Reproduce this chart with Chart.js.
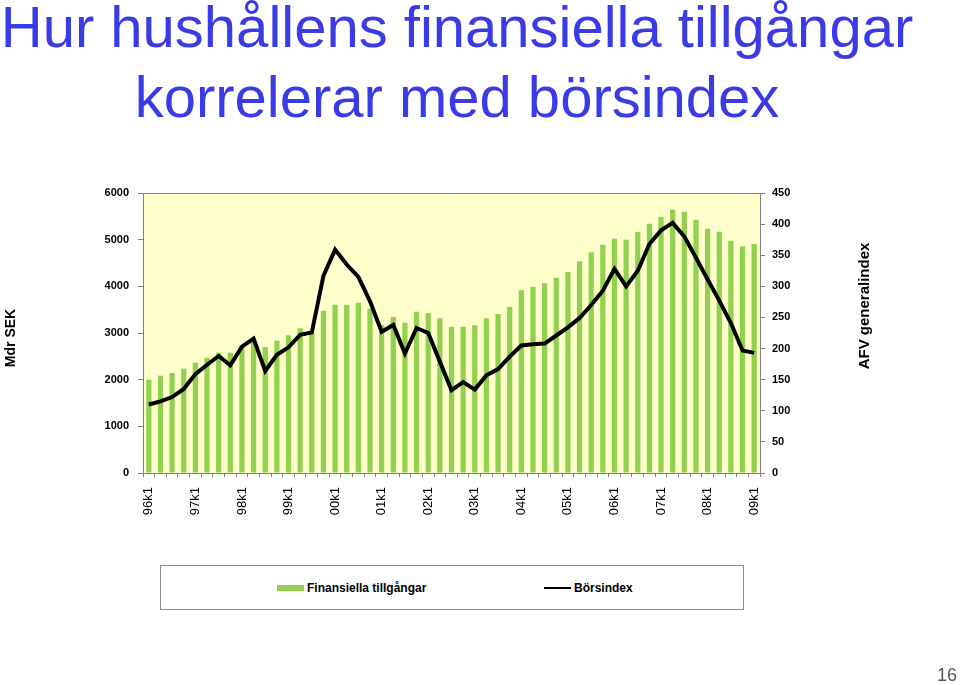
<!DOCTYPE html>
<html>
<head>
<meta charset="utf-8">
<script src="https://cdn.jsdelivr.net/npm/chart.js@4.4.0/dist/chart.umd.min.js"></script>
<style>
    body { margin: 0; background: #fff; font-family: "Liberation Sans", Arial, sans-serif; }
    #page { position: relative; width: 960px; height: 685px; overflow: hidden; }
    #title { position: absolute; left: 0; top: -8px; width: 914px; text-align: center;
        font-size: 58px; line-height: 70px; color: #3a3ae6; white-space: nowrap; }
    #chartBox { position: absolute; left: 0; top: 0; width: 960px; height: 685px; }
    #legend { position: absolute; left: 160px; top: 565px; width: 582px; height: 43px;
        border: 1px solid #8c8c8c; background: #fff; font-weight: bold; font-size: 12px; }
    #legend .sw { position: absolute; }
    #legend .txt { position: absolute; top: 15px; line-height: 14px; }
    #pageNo { position: absolute; left: 937px; top: 665px; font-size: 18px; color: #555; }
</style>
</head>
<body>
<div id="page">
    <div id="chartBox"><canvas id="myChart"></canvas></div>
    <div id="title">Hur hushållens finansiella tillgångar<br>korrelerar med börsindex</div>
    <div id="legend">
        <div class="sw" style="left:116px; top:19px; width:27px; height:6px; background:#92d050"></div>
        <div class="txt" style="left:146px">Finansiella tillgångar</div>
        <div class="sw" style="left:383px; top:21px; width:27px; height:2px; background:#000"></div>
        <div class="txt" style="left:413px">Börsindex</div>
    </div>
    <div id="pageNo">16</div>
</div>
<script>
const years = ['96', '97', '98', '99', '00', '01', '02', '03', '04', '05', '06', '07', '08', '09']

// Finansiella tillgångar, Mdr SEK (left axis)
const finansiella = [
    2000, 2086, 2143, 2236, 2364, 2471, 2579, 2579, 2730, 2860, 2700, 2836, 2950,
    3100, 3030, 3479, 3607, 3607, 3650, 3521, 3170, 3343, 3221, 3457, 3429, 3314, 3136,
    3136, 3164, 3314, 3407, 3557, 3914, 3986, 4064, 4186, 4307, 4536, 4729, 4893,
    5021, 5000, 5164, 5343, 5493, 5643, 5600, 5429, 5236, 5171, 4979, 4857, 4907
]

// Börsindex, AFV generalindex (right axis)
const borsindex = [
    110, 115, 122, 135, 159, 174, 188, 173, 203, 216, 164, 190, 202,
    222, 226, 317, 359, 335, 315, 276, 227, 238, 192, 233, 225, 179, 133,
    146, 134, 157, 167, 187, 205, 207, 208, 221, 234, 249, 270, 293,
    328, 300, 325, 368, 390, 402, 380, 346, 311, 277, 241, 197, 193
]

let quarters = []
for (let i = 0; i < years.length; i++) {
    const last = i === years.length - 1 ? 1 : 4
    for (let q = 1; q <= last; q++) {
        quarters.push(years[i] + 'k' + q)
    }
}

const axisGrey = '#808080'
Chart.defaults.font.family = '"Liberation Sans", Arial, sans-serif'
Chart.defaults.color = '#000'

const plotBackground = {
    id: 'plotBackground',
    beforeDraw(chart) {
        const { ctx, chartArea } = chart
        ctx.save()
        ctx.fillStyle = '#ffffcc'
        ctx.fillRect(chartArea.left, chartArea.top, chartArea.right - chartArea.left, chartArea.bottom - chartArea.top)
        ctx.restore()
    },
    afterDraw(chart) {
        const { ctx, chartArea } = chart
        ctx.save()
        ctx.strokeStyle = axisGrey
        ctx.lineWidth = 1
        ctx.beginPath()
        ctx.moveTo(chartArea.left, chartArea.top + 0.5)
        ctx.lineTo(chartArea.right, chartArea.top + 0.5)
        ctx.stroke()

        // axis titles, both reading bottom to top
        const midY = (chartArea.top + chartArea.bottom) / 2
        ctx.fillStyle = '#000'
        ctx.textAlign = 'center'
        ctx.textBaseline = 'middle'
        ctx.font = 'bold 14px "Liberation Sans", Arial, sans-serif'
        ctx.translate(11, midY + 5)
        ctx.rotate(-Math.PI / 2)
        ctx.fillText('Mdr SEK', 0, 0)
        ctx.restore()

        ctx.save()
        ctx.fillStyle = '#000'
        ctx.textAlign = 'center'
        ctx.textBaseline = 'middle'
        ctx.font = 'bold 15px "Liberation Sans", Arial, sans-serif'
        ctx.translate(865, midY - 27)
        ctx.rotate(-Math.PI / 2)
        ctx.fillText('AFV generalindex', 0, 0)
        ctx.restore()
    }
}

const ctx = document.getElementById('myChart').getContext('2d')
const myChart = new Chart(ctx, {
    type: 'bar',
    data: {
        labels: quarters,
        datasets: [
            {
                type: 'line',
                label: 'Börsindex',
                data: borsindex,
                yAxisID: 'y1',
                borderColor: '#000',
                borderWidth: 4,
                pointRadius: 0,
                tension: 0,
                fill: false,
                order: 0
            },
            {
                label: 'Finansiella tillgångar',
                data: finansiella,
                yAxisID: 'y',
                backgroundColor: '#92d050',
                categoryPercentage: 1,
                barPercentage: 0.45,
                order: 1
            }
        ]
    },
    options: {
        responsive: true,
        maintainAspectRatio: false,
        animation: false,
        layout: { padding: { top: 193, left: 0, right: 0, bottom: 152 } },
        plugins: {
            legend: { display: false },
            tooltip: { enabled: false }
        },
        scales: {
            x: {
                offset: true,
                grid: { display: true, drawOnChartArea: false, tickLength: 4, color: axisGrey, offset: true },
                border: { display: true, color: axisGrey, width: 1 },
                ticks: {
                    autoSkip: false,
                    minRotation: 90,
                    maxRotation: 90,
                    padding: 10,
                    font: { size: 13 },
                    callback: function(val) {
                        const l = this.getLabelForValue(val)
                        return l.endsWith('k1') ? l : ''
                    }
                },
                afterFit: function(scale) { scale.height = 60 }
            },
            y: {
                position: 'left',
                min: 0,
                max: 6000,
                grid: { display: true, drawOnChartArea: false, tickLength: 5, color: axisGrey },
                border: { display: true, color: axisGrey, width: 1 },
                ticks: {
                    stepSize: 1000,
                    padding: 9,
                    font: { size: 11, weight: 'bold' },
                    callback: (val) => String(val)
                },
                afterFit: function(scale) { scale.width = 143 }
            },
            y1: {
                position: 'right',
                min: 0,
                max: 450,
                grid: { display: true, drawOnChartArea: false, tickLength: 5, color: axisGrey },
                border: { display: true, color: axisGrey, width: 1 },
                ticks: {
                    stepSize: 50,
                    padding: 7,
                    font: { size: 11, weight: 'bold' },
                    callback: (val) => String(val)
                },
                afterFit: function(scale) { scale.width = 200 }
            }
        }
    },
    plugins: [plotBackground]
})
</script>
</body>
</html>
